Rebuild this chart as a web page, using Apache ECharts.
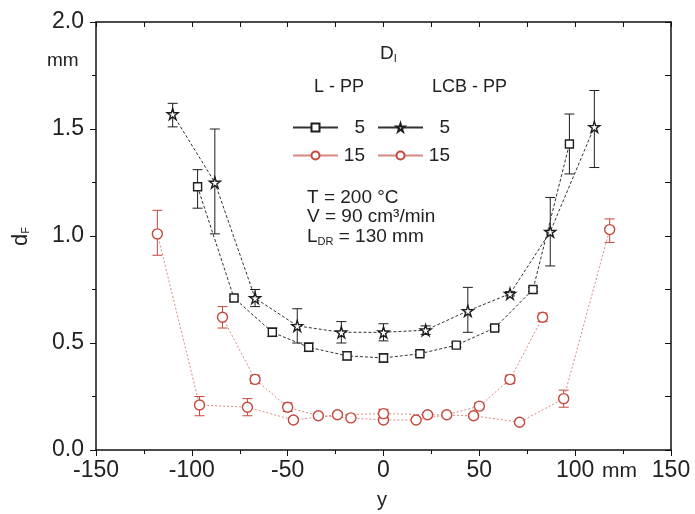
<!DOCTYPE html>
<html>
<head>
<meta charset="utf-8">
<script src="https://cdn.jsdelivr.net/npm/echarts@6/dist/echarts.min.js"></script>
<style>
  html, body { margin: 0; padding: 0; background: #fff; }
  #chart { width: 695px; height: 514px; }
</style>
</head>
<body>
<div id="chart"></div>
<script>
// positions along y (mm) and measured diameters d_F (mm)
const lpp5X = [-97, -78, -58, -39, -19, 0, 19, 38, 58, 78, 97];
const lpp5Y = [1.23, 0.71, 0.55, 0.48, 0.44, 0.43, 0.45, 0.49, 0.57, 0.75, 1.43];
const lpp5Lo = [1.13, 0.70, 0.53, 0.46, 0.42, 0.41, 0.44, 0.48, 0.56, 0.74, 1.29];
const lpp5Hi = [1.31, 0.72, 0.57, 0.50, 0.46, 0.45, 0.46, 0.50, 0.58, 0.76, 1.57];

const lcb5X = [-110, -88, -67, -45, -22, 0, 22, 44, 66, 87, 110];
const lcb5Y = [1.57, 1.25, 0.71, 0.58, 0.55, 0.55, 0.56, 0.65, 0.73, 1.02, 1.51];
const lcb5Lo = [1.51, 1.01, 0.67, 0.50, 0.50, 0.51, 0.54, 0.55, 0.72, 0.86, 1.32];
const lcb5Hi = [1.62, 1.50, 0.75, 0.66, 0.60, 0.59, 0.58, 0.76, 0.74, 1.18, 1.68];

const lpp15X = [-84, -67, -50, -34, -17, 0, 17, 33, 50, 66, 83];
const lpp15Y = [0.62, 0.33, 0.20, 0.16, 0.15, 0.14, 0.14, 0.165, 0.205, 0.33, 0.62];
const lpp15Lo = [0.57, 0.31, 0.18, 0.15, 0.14, 0.13, 0.13, 0.155, 0.19, 0.31, 0.60];
const lpp15Hi = [0.67, 0.35, 0.22, 0.17, 0.16, 0.15, 0.15, 0.175, 0.22, 0.35, 0.64];

const lcb15X = [-118, -96, -71, -47, -24, 0, 23, 47, 71, 94, 118];
const lcb15Y = [1.01, 0.21, 0.20, 0.14, 0.165, 0.17, 0.165, 0.16, 0.13, 0.24, 1.03];
const lcb15Lo = [0.91, 0.16, 0.16, 0.13, 0.155, 0.15, 0.155, 0.15, 0.12, 0.20, 0.97];
const lcb15Hi = [1.12, 0.25, 0.24, 0.15, 0.175, 0.19, 0.175, 0.17, 0.14, 0.28, 1.08];

const xTicks = [-150, -100, -50, 0, 50, 100, 150];
const yTicks = [0.0, 0.5, 1.0, 1.5, 2.0];

const black = "#1e1e1e";
const red = "#c4473b";
const redLine = "#d98a80";
const star = "path://M50,0 L61,35 L98,35 L68,57 L79,91 L50,70 L21,91 L32,57 L2,35 L39,35 Z";
const font = "Liberation Sans, Arial, sans-serif";

const pairs = (xs, ys) => xs.map((x, i) => [x, ys[i]]);
const bars = (xs, lo, hi) => xs.map((x, i) => [x, lo[i], hi[i]]);

const lineSeries = (name, xs, ys, symbol, size, color, lineColor, dash) => ({
  name,
  type: "line",
  data: pairs(xs, ys),
  symbol,
  symbolSize: size,
  showAllSymbol: true,
  z: 3,
  lineStyle: { color: lineColor, width: 1, type: dash },
  itemStyle: { color: "#fff", borderColor: color, borderWidth: 1.4 },
  emphasis: { disabled: true }
});

const errSeries = (xs, lo, hi, color) => ({
  type: "custom",
  data: bars(xs, lo, hi),
  z: 2,
  silent: true,
  renderItem(params, api) {
    const top = api.coord([api.value(0), api.value(2)]);
    const bot = api.coord([api.value(0), api.value(1)]);
    const s = { stroke: color, lineWidth: 1 };
    return {
      type: "group",
      children: [
        { type: "line", shape: { x1: top[0], y1: top[1], x2: bot[0], y2: bot[1] }, style: s },
        { type: "line", shape: { x1: top[0] - 5, y1: top[1], x2: top[0] + 5, y2: top[1] }, style: s },
        { type: "line", shape: { x1: bot[0] - 5, y1: bot[1], x2: bot[0] + 5, y2: bot[1] }, style: s }
      ]
    };
  }
});

const legendBase = {
  orient: "horizontal",
  itemWidth: 45,
  itemHeight: 10,
  itemGap: 12,
  selectedMode: false,
  lineStyle: { type: "solid" },
  formatter: name => "{v|" + name.split(" ")[1] + "}",
  textStyle: {
    rich: { v: { width: 22, align: "right", fontSize: 19, fontFamily: font, color: "#222" } }
  }
};

const chart = echarts.init(document.getElementById("chart"));
chart.setOption({
  backgroundColor: "#fff",
  animation: false,
  grid: { left: 96, right: 24, top: 22, bottom: 64 },
  xAxis: [
    {
      type: "value", min: xTicks[0], max: xTicks[xTicks.length - 1], interval: 50,
      axisLine: { onZero: false, lineStyle: { color: "#111", width: 1.5 } },
      axisTick: { length: 6, lineStyle: { color: "#111" } },
      minorTick: { show: true, splitNumber: 2, length: 4, lineStyle: { color: "#111" } },
      splitLine: { show: false },
      axisLabel: { fontSize: 23, color: "#222", fontFamily: font, margin: 9 }
    },
    {
      type: "value", position: "top", min: -150, max: 150, interval: 25,
      axisLine: { onZero: false, lineStyle: { color: "#111", width: 1.5 } },
      axisTick: { inside: true, length: 5, lineStyle: { color: "#111" } },
      axisLabel: { show: false }, splitLine: { show: false }
    }
  ],
  yAxis: [
    {
      type: "value", min: yTicks[0], max: yTicks[yTicks.length - 1], interval: 0.5,
      axisLine: { show: true, onZero: false, lineStyle: { color: "#111", width: 1.5 } },
      axisTick: { show: true, length: 6, lineStyle: { color: "#111" } },
      minorTick: { show: true, splitNumber: 2, length: 4, lineStyle: { color: "#111" } },
      splitLine: { show: false },
      axisLabel: { fontSize: 23, color: "#222", fontFamily: font, margin: 12, formatter: v => v.toFixed(1) }
    },
    {
      type: "value", position: "right", min: 0, max: 2, interval: 0.25,
      axisLine: { show: true, onZero: false, lineStyle: { color: "#111", width: 1.5 } },
      axisTick: { show: true, inside: true, length: 6, lineStyle: { color: "#111" } },
      axisLabel: { show: false }, splitLine: { show: false }
    }
  ],
  legend: [
    Object.assign({}, legendBase, { left: 287, top: 113, data: ["L-PP 5", "LCB-PP 5"] }),
    Object.assign({}, legendBase, { left: 287, top: 141, data: ["L-PP 15", "LCB-PP 15"] })
  ],
  series: [
    errSeries(lpp5X, lpp5Lo, lpp5Hi, black),
    errSeries(lcb5X, lcb5Lo, lcb5Hi, black),
    errSeries(lpp15X, lpp15Lo, lpp15Hi, red),
    errSeries(lcb15X, lcb15Lo, lcb15Hi, red),
    lineSeries("L-PP 5", lpp5X, lpp5Y, "rect", 8, black, "#333", [3, 2]),
    lineSeries("LCB-PP 5", lcb5X, lcb5Y, star, 11, black, "#333", [3, 2]),
    lineSeries("L-PP 15", lpp15X, lpp15Y, "circle", 10, red, redLine, [2, 2]),
    lineSeries("LCB-PP 15", lcb15X, lcb15Y, "circle", 10, red, redLine, [2, 2])
  ],
  graphic: [
    { type: "text", left: 47, top: 51, style: { text: "mm", fontSize: 19, fontFamily: font, fill: "#222" } },
    { type: "text", x: 10, y: 246, rotation: Math.PI / 2,
      style: { text: "d{s|F}", fontSize: 22, fontFamily: font, fill: "#222",
        rich: { s: { fontSize: 11, fontFamily: font, fill: "#222", padding: [10, 0, 0, 0] } } } },
    { type: "text", left: 377, top: 490, style: { text: "y", fontSize: 20, fontFamily: font, fill: "#222" } },
    { type: "text", left: 602, top: 461, style: { text: "mm", fontSize: 21, fontFamily: font, fill: "#222" } },
    { type: "text", left: 380, top: 44,
      style: { text: "D{s|I}", fontSize: 19, fontFamily: font, fill: "#222",
        rich: { s: { fontSize: 11, fontFamily: font, fill: "#222", padding: [10, 0, 0, 0] } } } },
    { type: "text", left: 314, top: 78, style: { text: "L - PP", fontSize: 18, fontFamily: font, fill: "#222" } },
    { type: "text", left: 432, top: 78, style: { text: "LCB - PP", fontSize: 18, fontFamily: font, fill: "#222" } },
    { type: "text", left: 307, top: 188, style: { text: "T = 200 °C", fontSize: 19, fontFamily: font, fill: "#222" } },
    { type: "text", left: 307, top: 207, style: { text: "V = 90 cm³/min", fontSize: 19, fontFamily: font, fill: "#222" } },
    { type: "text", left: 307, top: 227,
      style: { text: "L{s|DR} = 130 mm", fontSize: 19, fontFamily: font, fill: "#222",
        rich: { s: { fontSize: 11, fontFamily: font, fill: "#222", padding: [10, 0, 0, 0] } } } }
  ]
});
</script>
</body>
</html>
